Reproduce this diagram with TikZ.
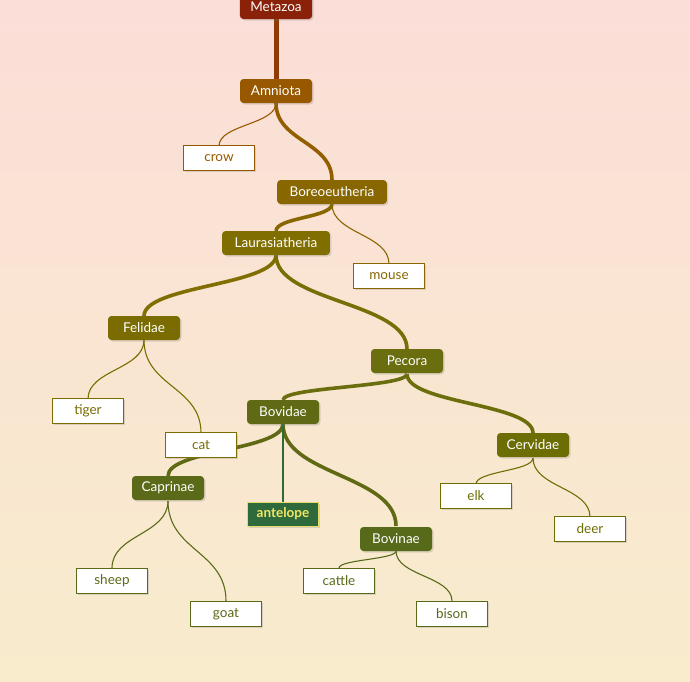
\documentclass[tikz,border=0pt]{standalone}
\usepackage{fontspec}
\setmainfont{Lato}
\usetikzlibrary{shadows,calc}
\definecolor{bgtop}{RGB}{251,222,216}
\definecolor{bgbot}{RGB}{248,236,204}
\definecolor{cMeta}{RGB}{138,34,10}
\definecolor{cAmni}{RGB}{152,88,0}
\definecolor{cBoreo}{RGB}{136,102,0}
\definecolor{cLaur}{RGB}{128,110,0}
\definecolor{cFel}{RGB}{122,108,0}
\definecolor{cPec}{RGB}{106,110,14}
\definecolor{cBov}{RGB}{96,106,20}
\definecolor{cCerv}{RGB}{108,110,4}
\definecolor{cCap}{RGB}{90,106,24}
\definecolor{cBovin}{RGB}{86,106,26}
\definecolor{cAnt}{RGB}{46,106,60}
\definecolor{cAntB}{RGB}{230,220,110}
\definecolor{cAntT}{RGB}{242,230,100}
\tikzset{
  x=1pt,y=-1pt,
  inner/.style={fill=#1, text=white, rounded corners=3.5pt, minimum width=72pt, minimum height=24pt, inner xsep=10.5pt, inner ysep=0pt, font=\fontsize{13.5}{15}\selectfont, drop shadow={opacity=0.25, shadow xshift=1.5pt, shadow yshift=-1.5pt}},
  leaf/.style={fill=white, draw=#1, line width=1pt, text=#1, minimum width=71pt, minimum height=25pt, inner sep=0pt, font=\fontsize{13.5}{15}\selectfont, drop shadow={opacity=0.25, shadow xshift=1.5pt, shadow yshift=-1.5pt}},
  thick edge/.style={draw=#1, line width=3.6pt},
  thin edge/.style={draw=#1, line width=1.1pt},
}
\newcommand\linkvert[3]{%
  \path coordinate (lkm) at ($(#2)!.5!(#3)$);
  \draw[#1] (#2) .. controls (#2 |- lkm) and (#3 |- lkm) .. (#3);}
\begin{document}
\begin{tikzpicture}
\useasboundingbox (0,0) rectangle (690,681);
\shade[top color=bgtop, bottom color=bgbot] (0,0) rectangle (690,681);
% anchor points of the edges
\coordinate (pMeta) at (276,7);
\coordinate (pAmniB) at (276,103);
\coordinate (pAmniT) at (276,79);
\coordinate (pBoreoT) at (332,180);
\coordinate (pBoreoB) at (332,204);
\coordinate (pLaurT) at (276,231);
\coordinate (pLaurB) at (276,255);
\coordinate (pFelT) at (144,316);
\coordinate (pFelB) at (144,340);
\coordinate (pPecT) at (407,349);
\coordinate (pPecB) at (407,374);
\coordinate (pBovT) at (283,400);
\coordinate (pBovB) at (283,424);
\coordinate (pCervT) at (533,433);
\coordinate (pCervB) at (533,458);
\coordinate (pCapT) at (168,476);
\coordinate (pCapB) at (168,501);
\coordinate (pBovinT) at (396,526);
\coordinate (pBovinB) at (396,551);
\coordinate (pCrow) at (219,146);
\coordinate (pMouse) at (389,264);
\coordinate (pTiger) at (88,399);
\coordinate (pCat) at (201,433);
\coordinate (pAnt) at (283,502);
\coordinate (pElk) at (476,484);
\coordinate (pDeer) at (590,517);
\coordinate (pSheep) at (112,568);
\coordinate (pGoat) at (226,601);
\coordinate (pCattle) at (339,568);
\coordinate (pBison) at (452,601);

\draw[line width=5pt, draw=cMeta!55!cAmni] (pMeta) -- (pAmniT);
\linkvert{thick edge=cAmni!60!cBoreo}{pAmniB}{pBoreoT}
\linkvert{thin edge=cAmni}{pAmniB}{pCrow}
\linkvert{thick edge=cBoreo}{pBoreoB}{pLaurT}
\linkvert{thin edge=cBoreo}{pBoreoB}{pMouse}
\linkvert{thick edge=cLaur}{pLaurB}{pFelT}
\linkvert{thick edge=cLaur!60!cPec}{pLaurB}{pPecT}
\linkvert{thin edge=cFel}{pFelB}{pTiger}
\linkvert{thin edge=cFel}{pFelB}{pCat}
\linkvert{thick edge=cPec}{pPecB}{pBovT}
\linkvert{thick edge=cPec!60!cCerv}{pPecB}{pCervT}
\linkvert{thick edge=cBov}{pBovB}{pCapT}
\linkvert{thick edge=cBov}{pBovB}{pBovinT}
\draw[thin edge=cAnt] (pBovB) -- (pAnt);
\linkvert{thin edge=cCerv}{pCervB}{pElk}
\linkvert{thin edge=cCerv}{pCervB}{pDeer}
\linkvert{thin edge=cCap}{pCapB}{pSheep}
\linkvert{thin edge=cCap}{pCapB}{pGoat}
\linkvert{thin edge=cBovin}{pBovinB}{pCattle}
\linkvert{thin edge=cBovin}{pBovinB}{pBison}

% nodes
\node[inner=cMeta] (meta) at (276,7) {Metazoa};
\node[inner=cAmni] (amni) at (276,91) {Amniota};
\node[leaf=cAmni] (crow) at (219,158) {crow};
\node[inner=cBoreo, inner xsep=12.5pt] (boreo) at (332,192) {Boreoeutheria};
\node[inner=cLaur, inner xsep=12.5pt] (laur) at (276,243) {Laurasiatheria};
\node[leaf=cBoreo] (mouse) at (389,276) {mouse};
\node[inner=cFel] (fel) at (144,328) {Felidae};
\node[inner=cPec] (pec) at (407,361) {Pecora};
\node[leaf=cFel] (tiger) at (88,411) {tiger};
\node[inner=cBov] (bov) at (283,412) {Bovidae};
\node[leaf=cFel] (cat) at (201,445) {cat};
\node[inner=cCerv, inner xsep=8pt] (cerv) at (533,445) {Cervidae};
\node[inner=cCap, inner xsep=8pt] (cap) at (168,488) {Caprinae};
\node[fill=cAnt, draw=cAntB, line width=1pt, text=cAntT, minimum width=71pt, minimum height=24pt, inner sep=0pt, font=\fontsize{13.5}{15}\selectfont\bfseries, drop shadow={opacity=0.25, shadow xshift=1.5pt, shadow yshift=-1.5pt}] (ant) at (283,514) {antelope};
\node[leaf=cCerv] (elk) at (476,496) {elk};
\node[leaf=cCerv] (deer) at (590,529) {deer};
\node[inner=cBovin] (bovin) at (396,539) {Bovinae};
\node[leaf=cCap] (sheep) at (112,581) {sheep};
\node[leaf=cBovin] (cattle) at (339,581) {cattle};
\node[leaf=cCap] (goat) at (226,614) {goat};
\node[leaf=cBovin] (bison) at (452,614) {bison};
\end{tikzpicture}
\end{document}
